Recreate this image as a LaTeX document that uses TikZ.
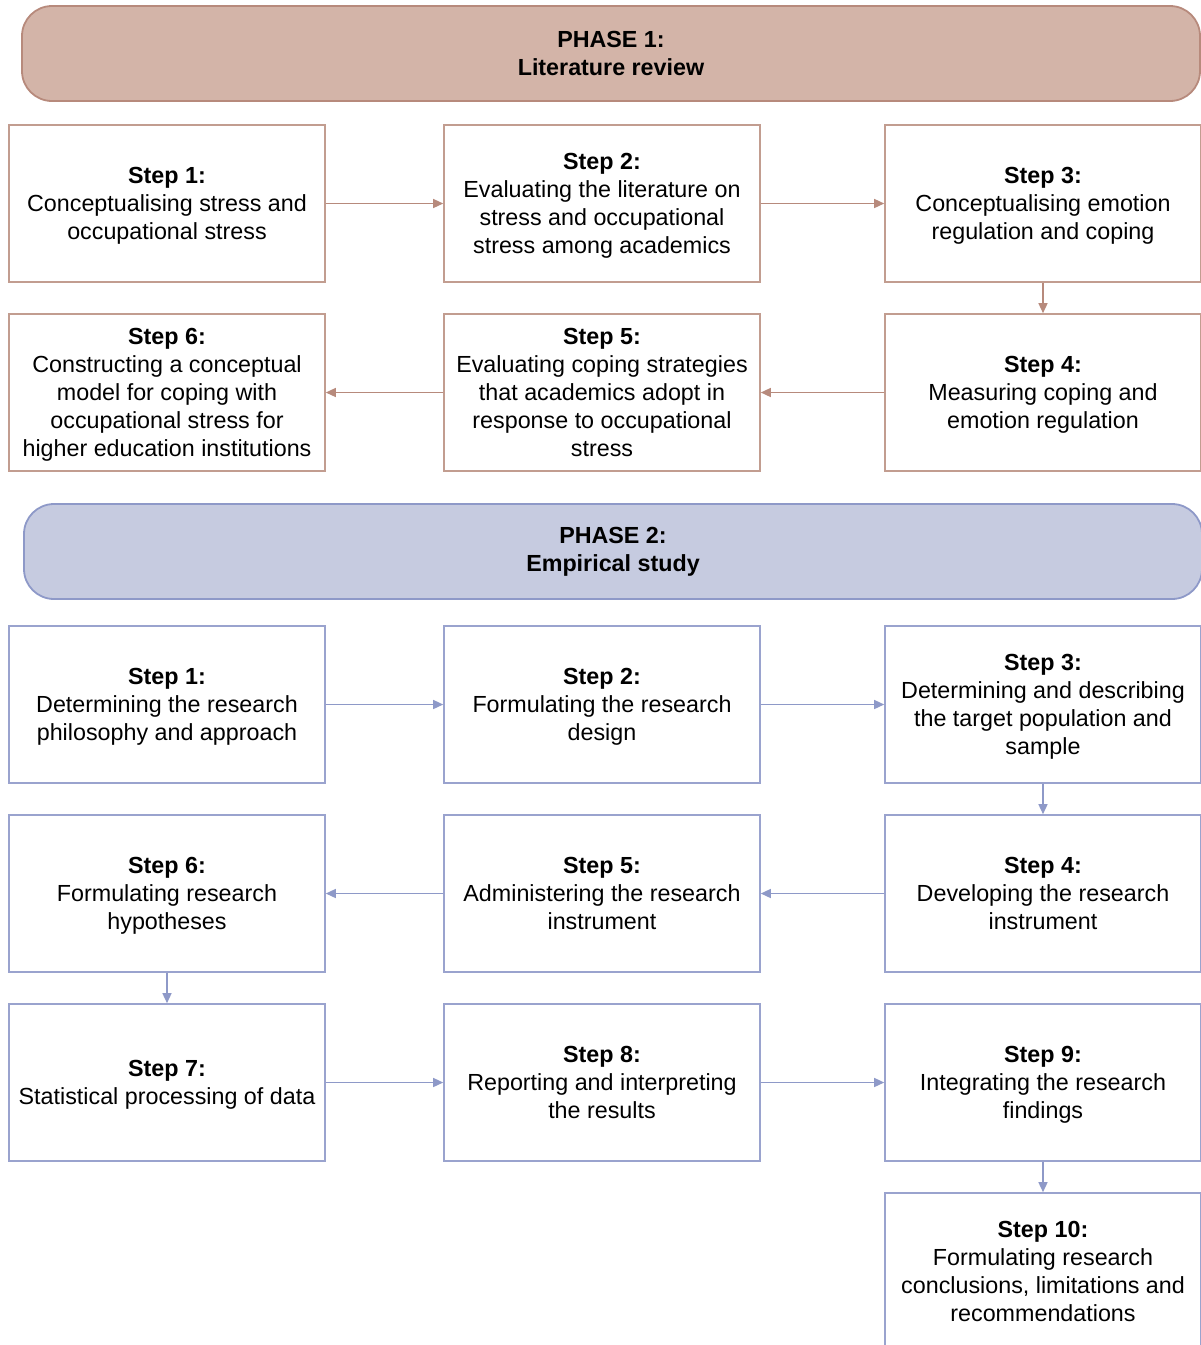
\documentclass[tikz,border=0pt]{standalone}
\usepackage{fontspec}
\setmainfont{Liberation Sans}
\usetikzlibrary{arrows.meta}
\definecolor{ochfill}{HTML}{D3B4A8}
\definecolor{ochline}{HTML}{B78A7C}
\definecolor{ochbox}{HTML}{C29D90}
\definecolor{blufill}{HTML}{C6CBE0}
\definecolor{bluline}{HTML}{8E99C8}
\definecolor{blubox}{HTML}{9AA3CE}
% bold step heading with a fixed-height strut, so every block centres alike
\newcommand\stephead[1]{\rule{0pt}{21pt}\textbf{Step #1:}}
\newcommand\lastline[1]{#1\rule[-6pt]{0pt}{6pt}}
\tikzset{
  x=1pt, y=1pt,
  phasebar/.style={rounded corners=30pt, line width=1.8pt, minimum width=1178pt,
    minimum height=95pt, inner sep=0pt, align=center,
    font=\fontsize{23.3}{28}\selectfont\bfseries},
  stepbox/.style={draw, line width=1.6pt, fill=white, minimum width=316pt,
    minimum height=157pt, inner sep=0pt, align=center,
    font=\fontsize{23.3}{28}\selectfont},
  boxA/.style={stepbox, draw=ochbox},
  boxB/.style={stepbox, draw=blubox},
  linkA/.style={draw=ochline, line width=1.4pt, -{Triangle[length=10pt,width=9pt]}, fill=ochline},
  linkB/.style={draw=bluline, line width=1.4pt, -{Triangle[length=10pt,width=9pt]}, fill=bluline},
}
\begin{document}
\begin{tikzpicture}
\useasboundingbox (0,0) rectangle (1201,-1345);
\clip (0,0) rectangle (1201,-1345);

% Phase 1: literature review
\node[phasebar, fill=ochfill, draw=ochline] (p1) at (611,-53.5)
  {PHASE 1:\\Literature review};

\node[boxA] (a1) at (167,-203.5) {\stephead{1}\\Conceptualising stress and\\\lastline{occupational stress}};
\node[boxA] (a2) at (602,-203.5) {\stephead{2}\\Evaluating the literature on\\stress and occupational\\\lastline{stress among academics}};
\node[boxA] (a3) at (1043,-203.5) {\stephead{3}\\Conceptualising emotion\\\lastline{regulation and coping}};
\node[boxA] (a4) at (1043,-392.5) {\stephead{4}\\Measuring coping and\\\lastline{emotion regulation}};
\node[boxA] (a5) at (602,-392.5) {\stephead{5}\\Evaluating coping strategies\\that academics adopt in\\response to occupational\\\lastline{stress}};
\node[boxA] (a6) at (167,-392.5) {\stephead{6}\\Constructing a conceptual\\model for coping with\\occupational stress for\\\lastline{higher education institutions}};

\draw[linkA] (a1) -- (a2);
\draw[linkA] (a2) -- (a3);
\draw[linkA] (a3) -- (a4);
\draw[linkA] (a4) -- (a5);
\draw[linkA] (a5) -- (a6);

% Phase 2: empirical study
\node[phasebar, fill=blufill, draw=bluline] (p2) at (613,-551.5)
  {PHASE 2:\\Empirical study};

\node[boxB] (b1) at (167,-704.5) {\stephead{1}\\Determining the research\\\lastline{philosophy and approach}};
\node[boxB] (b2) at (602,-704.5) {\stephead{2}\\Formulating the research\\\lastline{design}};
\node[boxB] (b3) at (1043,-704.5) {\stephead{3}\\Determining and describing\\the target population and\\\lastline{sample}};
\node[boxB] (b4) at (1043,-893.5) {\stephead{4}\\Developing the research\\\lastline{instrument}};
\node[boxB] (b5) at (602,-893.5) {\stephead{5}\\Administering the research\\\lastline{instrument}};
\node[boxB] (b6) at (167,-893.5) {\stephead{6}\\Formulating research\\\lastline{hypotheses}};
\node[boxB] (b7) at (167,-1082.5) {\stephead{7}\\\lastline{Statistical processing of data}};
\node[boxB] (b8) at (602,-1082.5) {\stephead{8}\\Reporting and interpreting\\\lastline{the results}};
\node[boxB] (b9) at (1043,-1082.5) {\stephead{9}\\Integrating the research\\\lastline{findings}};
\node[boxB] (b10) at (1043,-1271.5) {\stephead{10}\\Formulating research\\conclusions, limitations and\\\lastline{recommendations}};

\draw[linkB] (b1) -- (b2);
\draw[linkB] (b2) -- (b3);
\draw[linkB] (b3) -- (b4);
\draw[linkB] (b4) -- (b5);
\draw[linkB] (b5) -- (b6);
\draw[linkB] (b6) -- (b7);
\draw[linkB] (b7) -- (b8);
\draw[linkB] (b8) -- (b9);
\draw[linkB] (b9) -- (b10);
\end{tikzpicture}
\end{document}
